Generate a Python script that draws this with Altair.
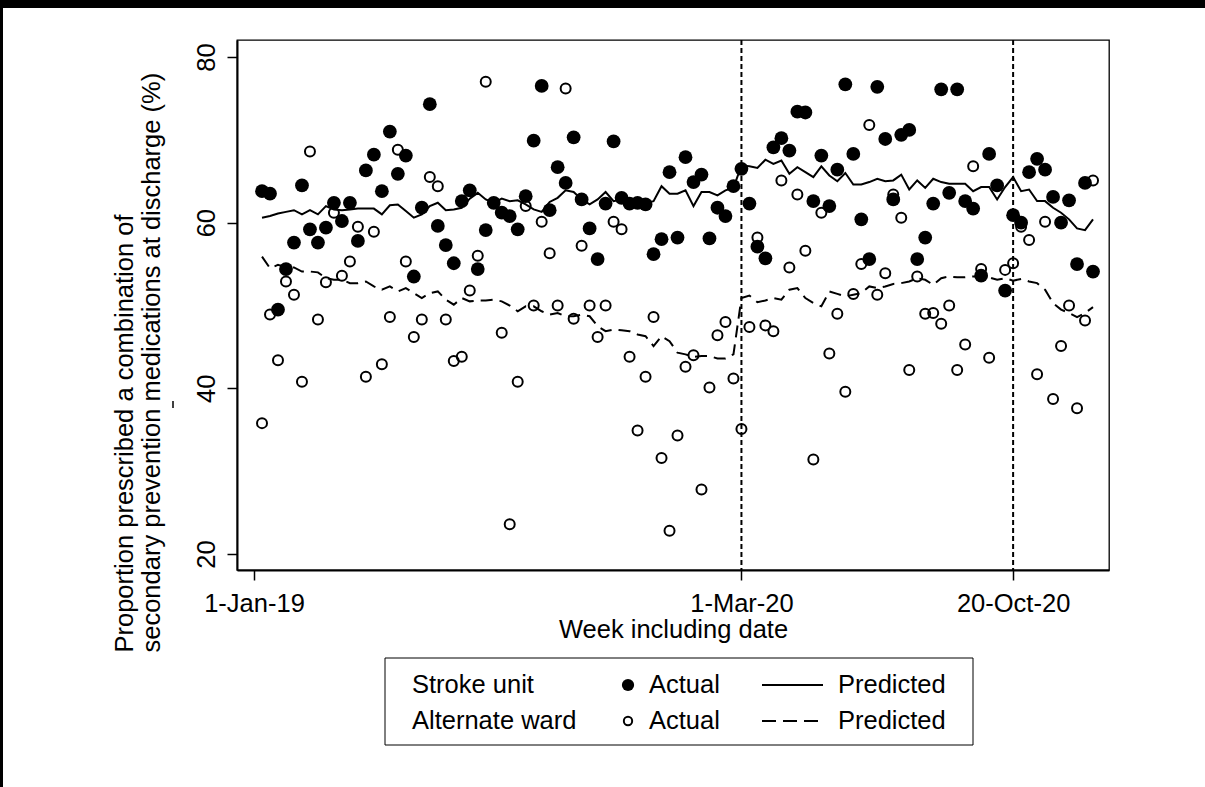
import altair as alt
import pandas as pd

# ---------------- data ----------------
weeks = list(range(105))

stroke_actual = [
    63.8, 63.5, 49.5, 54.4, 57.6, 64.5, 59.2, 57.6, 59.4, 62.4,
    60.2, 62.4, 57.8, 66.3, 68.2, 63.8, 71.0, 65.9, 68.1, 53.5,
    61.8, 74.3, 59.6, 57.3, 55.1, 62.6, 63.9, 54.4, 59.1, 62.4,
    61.2, 60.8, 59.2, 63.2, 69.9, 76.5, 61.5, 66.7, 64.8, 70.3,
    62.8, 59.3, 55.6, 62.3, 69.8, 63.0, 62.3, 62.4, 62.2, 56.2,
    58.0, 66.1, 58.2, 67.9, 64.9, 65.8, 58.1, 61.8, 60.8, 64.4,
    66.5, 62.3, 57.1, 55.7, 69.1, 70.2, 68.7, 73.4, 73.3, 62.6,
    68.1, 62.0, 66.4, 76.7, 68.3, 60.4, 55.6, 76.4, 70.1, 62.8,
    70.6, 71.2, 55.6, 58.2, 62.3, 76.1, 63.6, 76.1, 62.6, 61.7,
    53.6, 68.3, 64.5, 51.8, 60.9, 60.0, 66.1, 67.7, 66.4, 63.1,
    60.0, 62.7, 55.0, 64.8, 54.1,
]

alternate_actual = [
    35.8, 48.9, 43.4, 52.9, 51.3, 40.8, 68.6, 48.3, 52.8, 61.2,
    53.6, 55.3, 59.5, 41.4, 58.9, 42.9, 48.6, 68.8, 55.3, 46.2,
    48.3, 65.5, 64.4, 48.3, 43.3, 43.8, 51.8, 56.0, 77.0, None,
    46.7, 23.6, 40.8, 62.0, 50.0, 60.1, 56.3, 50.0, 76.2, 48.4,
    57.2, 50.0, 46.2, 50.0, 60.1, 59.2, 43.8, 34.9, 41.4, 48.6,
    31.6, 22.8, 34.3, 42.6, 44.0, 27.8, 40.1, 46.4, 48.0, 41.2,
    35.1, 47.4, 58.2, 47.6, 46.9, 65.1, 54.6, 63.4, 56.6, 31.4,
    61.2, 44.2, 49.0, 39.6, 51.4, 55.0, 71.8, 51.3, 53.9, 63.4,
    60.6, 42.2, 53.5, 49.0, 49.1, 47.8, 50.0, 42.2, 45.3, 66.8,
    54.4, 43.7, None, 54.3, 55.1, 59.5, 57.9, 41.7, 60.1, 38.7,
    45.1, 50.0, 37.6, 48.2, 65.1,
]

stroke_predicted = [
    60.6, 60.8, 61.1, 61.3, 61.5, 61.0, 61.5, 61.0, 62.0, 61.6,
    61.5, 61.6, 61.7, 61.7, 61.7, 61.0, 62.1, 62.2, 61.4, 60.6,
    61.0, 62.0, 62.4, 61.5, 61.6, 61.8, 62.9, 63.6, 62.8, 62.4,
    62.9, 62.6, 62.7, 62.2, 61.6, 61.3, 62.5, 63.0, 63.9, 63.7,
    62.8, 62.2, 62.8, 63.7, 62.6, 62.8, 62.4, 62.4, 62.4, 62.6,
    64.4, 63.5, 63.5, 63.9, 62.0, 63.7, 63.7, 63.3, 63.9, 64.2,
    66.9, 66.8, 66.6, 67.6, 67.1, 67.5, 65.9, 66.7, 66.1, 65.5,
    66.8, 65.7, 65.0, 66.0, 64.6, 64.6, 64.9, 65.3, 65.0, 65.1,
    65.8, 64.0, 65.1, 64.2, 65.3, 64.9, 64.7, 64.7, 64.7, 63.8,
    64.3, 64.3, 62.8, 64.3, 65.5, 63.8, 64.0, 62.6, 62.6, 61.8,
    61.2, 60.4, 59.3, 59.1, 60.4,
]

alternate_predicted = [
    55.9, 54.5, 54.9, 54.6, 54.6, 54.1, 54.1, 54.0, 53.3, 53.1,
    53.1, 52.7, 52.7, 52.9, 52.3, 51.9, 52.3, 51.7, 52.1, 51.5,
    50.9, 51.5, 51.7, 50.7, 50.1, 50.9, 50.5, 50.6, 50.6, 50.7,
    50.5, 50.0, 49.3, 49.9, 49.9, 49.3, 48.9, 49.1, 48.7, 48.7,
    48.9, 48.7, 47.5, 46.9, 47.1, 47.0, 46.9, 46.5, 46.3, 45.1,
    46.3, 45.7, 44.3, 44.1, 43.8, 43.9, 43.9, 43.6, 43.6, 44.1,
    50.9, 51.2, 50.4, 50.6, 50.9, 50.7, 51.9, 52.1, 50.9, 50.3,
    49.9, 51.7, 51.4, 51.1, 51.3, 51.5, 52.3, 52.1, 52.3, 52.6,
    52.7, 52.9, 53.3, 53.1, 52.5, 53.3, 53.5, 53.4, 53.4, 53.5,
    53.5, 53.4, 53.1, 53.3, 53.0, 53.2, 52.9, 52.7, 51.9, 50.3,
    49.5, 49.1, 48.6, 49.1, 49.8,
]

tick_weeks = [-1, 60, 94]
tick_labels = ["1-Jan-19", "1-Mar-20", "20-Oct-20"]
ref_weeks = [60, 94]
y_ticks = [20, 40, 60, 80]

y_title = ["Proportion prescribed a combination of",
           "secondary prevention medications at discharge (%)"]
x_title = "Week including date"

# ---------------- frames ----------------
df = pd.DataFrame({
    "week": weeks,
    "stroke_actual": stroke_actual,
    "alternate_actual": alternate_actual,
    "stroke_predicted": stroke_predicted,
    "alternate_predicted": alternate_predicted,
})
df_alt = df.dropna(subset=["alternate_actual"])
ref_df = pd.DataFrame({"week": ref_weeks})
one = pd.DataFrame({"k": [0]})

FONT = "Liberation Sans"
FS = 25.5

label_expr = " : ".join(
    f"datum.value == {w} ? '{l}'" for w, l in zip(tick_weeks, tick_labels)
) + " : ''"

xscale = alt.Scale(domain=[-3.13, 106.0], nice=False, zero=False)
yscale = alt.Scale(domain=[18.07, 82.05], nice=False, zero=False)

x_axis = alt.Axis(values=tick_weeks, labelExpr=label_expr, title=x_title,
                  tickSize=10, labelPadding=11, titlePadding=1,
                  labelFlush=False, labelOverlap=False)
y_axis = alt.Axis(values=y_ticks, labelAngle=270, title=y_title,
                  tickSize=10, labelPadding=8, titleAngle=270,
                  titleX=-113, titleY=612, titleAlign="left",
                  titleBaseline="middle", titleLineHeight=27)

X = alt.X("week:Q", scale=xscale, axis=x_axis)

base = alt.Chart(df)

filled = base.mark_point(shape="circle", filled=True, size=190,
                         color="black", opacity=1).encode(
    x=X, y=alt.Y("stroke_actual:Q", scale=yscale, axis=y_axis))

hollow = alt.Chart(df_alt).mark_point(shape="circle", filled=False, size=100,
                                      color="black", strokeWidth=2,
                                      opacity=1).encode(
    x=alt.X("week:Q", scale=xscale),
    y=alt.Y("alternate_actual:Q", scale=yscale))

solid = base.mark_line(color="black", strokeWidth=2).encode(
    x=alt.X("week:Q", scale=xscale),
    y=alt.Y("stroke_predicted:Q", scale=yscale))

dashed = base.mark_line(color="black", strokeWidth=2,
                        strokeDash=[12, 7]).encode(
    x=alt.X("week:Q", scale=xscale),
    y=alt.Y("alternate_predicted:Q", scale=yscale))

refs = alt.Chart(ref_df).mark_rule(color="black", strokeWidth=2,
                                   strokeDash=[5, 3]).encode(
    x=alt.X("week:Q", scale=xscale))

# ---------------- page border and stray mark (layout decoration) ----------------
top_bar = alt.Chart(one).mark_rect(color="black").encode(
    x=alt.value(-237), x2=alt.value(968), y=alt.value(-40), y2=alt.value(-32))
left_bar = alt.Chart(one).mark_rect(color="black").encode(
    x=alt.value(-237), x2=alt.value(-234), y=alt.value(-40), y2=alt.value(747))
stray = alt.Chart(one).mark_rule(color="black", strokeWidth=1.5).encode(
    x=alt.value(-64), y=alt.value(361), y2=alt.value(368))

# ---------------- legend (manual, Stata style) ----------------
LX, LY = 148, 618  # legend box origin relative to plot
box = alt.Chart(one).mark_rect(fill="white", stroke="black",
                               strokeWidth=1).encode(
    x=alt.value(LX), x2=alt.value(LX + 588),
    y=alt.value(LY), y2=alt.value(LY + 87))

r1, r2 = LY + 27, LY + 63
legend_layers = [box]


def txt(s, x, y):
    return alt.Chart(one).mark_text(align="left", baseline="middle",
                                    font=FONT, fontSize=FS,
                                    color="black").encode(
        x=alt.value(x), y=alt.value(y), text=alt.value(s))


legend_layers += [
    txt("Stroke unit", LX + 27, r1),
    txt("Alternate ward", LX + 27, r2),
    txt("Actual", LX + 264, r1),
    txt("Actual", LX + 264, r2),
    txt("Predicted", LX + 453, r1),
    txt("Predicted", LX + 453, r2),
    alt.Chart(one).mark_point(shape="circle", filled=True, size=150,
                              color="black", opacity=1).encode(
        x=alt.value(LX + 243), y=alt.value(r1)),
    alt.Chart(one).mark_point(shape="circle", filled=False, size=70,
                              color="black", strokeWidth=2, opacity=1).encode(
        x=alt.value(LX + 243), y=alt.value(r2)),
    alt.Chart(one).mark_rule(color="black", strokeWidth=2).encode(
        x=alt.value(LX + 377), x2=alt.value(LX + 438), y=alt.value(r1)),
    alt.Chart(one).mark_rule(color="black", strokeWidth=2,
                             strokeDash=[14, 7]).encode(
        x=alt.value(LX + 377), x2=alt.value(LX + 438), y=alt.value(r2)),
]

chart = alt.layer(
    filled, hollow, solid, dashed, refs, top_bar, left_bar, stray,
    *legend_layers
).properties(
    width=872, height=530,
    autosize=alt.AutoSizeParams(type="none"),
    padding={"left": 237, "top": 40, "right": 96, "bottom": 217},
    background="white",
).configure_view(
    stroke="black", strokeWidth=1.3
).configure_axis(
    domainColor="black", domainWidth=2, tickColor="black", tickWidth=1.5,
    labelColor="black", titleColor="black", labelFont=FONT, titleFont=FONT,
    labelFontSize=FS, titleFontSize=FS, titleFontWeight="normal", grid=False,
)

chart.save("out.html", embed_options={"renderer": "svg", "actions": False})
